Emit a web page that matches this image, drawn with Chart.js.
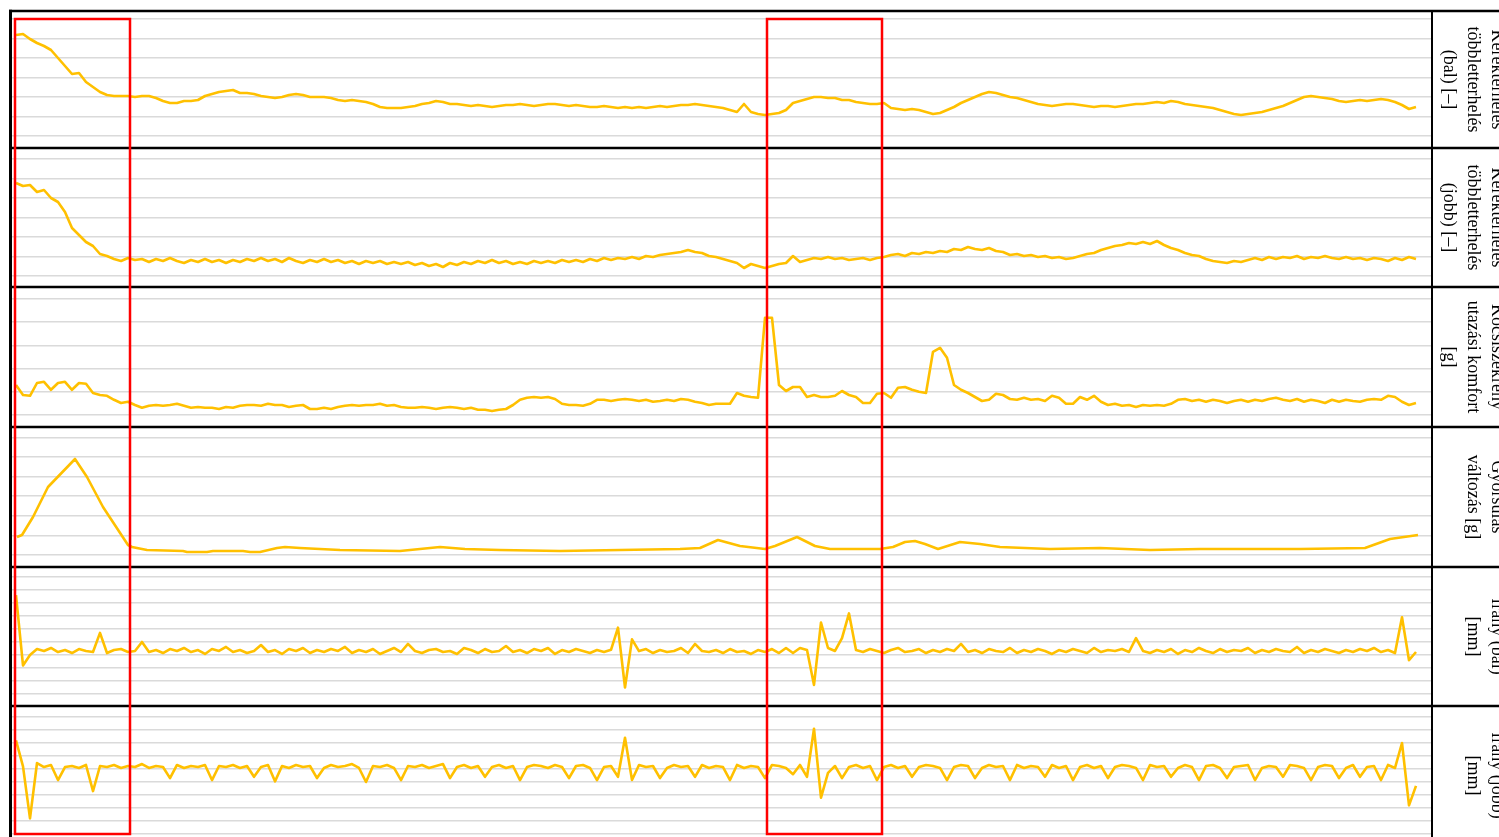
<!DOCTYPE html>
<html lang="hu">
<head>
<meta charset="utf-8">
<title>Mérési eredmények</title>
<script src="https://cdn.jsdelivr.net/npm/chart.js@4.4.1/dist/chart.umd.min.js"></script>
<style>
  html, body { margin: 0; padding: 0; background: #fff; overflow: hidden; }
  #wrap { width: 1499px; height: 848px; }
</style>
</head>
<body>
<div id="wrap"><canvas id="meresChart"></canvas></div>
<script>
// szelvény [m]
const szelveny = [
  0,7,14,21,28,35,42,49,56,63,70,77,84,91,98,105,112,119,126,133,
  140,147,154,161,168,175,182,189,196,203,210,217,224,231,238,245,252,259,266,273,
  280,287,294,301,308,315,322,329,336,343,350,357,364,371,378,385,392,399,406,413,
  420,427,434,441,448,455,462,469,476,483,490,497,504,511,518,525,532,539,546,553,
  560,567,574,581,588,595,602,609,616,623,630,637,644,651,658,665,672,679,686,693,
  700,707,714,721,728,735,742,749,756,763,770,777,784,791,798,805,812,819,826,833,
  840,847,854,861,868,875,882,889,896,903,910,917,924,931,938,945,952,959,966,973,
  980,987,994,1001,1008,1015,1022,1029,1036,1043,1050,1057,1064,1071,1078,1085,1092,1099,1106,1113,
  1120,1127,1134,1141,1148,1155,1162,1169,1176,1183,1190,1197,1204,1211,1218,1225,1232,1239,1246,1253,
  1260,1267,1274,1281,1288,1295,1302,1309,1316,1323,1330,1337,1344,1351,1358,1365,1372,1379,1386,1393,
  1400
];

// kerékterhelés többletterhelés, bal [-]
const tobbletBal = [
  .505,.51,.485,.465,.45,.43,.39,.35,.31,.315,
  .27,.245,.22,.205,.2,.2,.2,.195,.2,.2,
  .19,.175,.165,.165,.175,.175,.18,.2,.21,.22,
  .225,.23,.215,.215,.21,.2,.195,.19,.195,.205,
  .21,.205,.195,.195,.195,.19,.18,.175,.18,.175,
  .17,.16,.145,.14,.14,.14,.145,.15,.16,.165,
  .175,.17,.16,.16,.155,.15,.155,.15,.145,.15,
  .155,.155,.16,.155,.15,.155,.16,.16,.155,.15,
  .155,.15,.145,.145,.15,.145,.14,.145,.14,.145,
  .14,.145,.15,.145,.15,.155,.155,.16,.155,.15,
  .145,.14,.13,.12,.16,.12,.11,.105,.11,.115,
  .13,.165,.175,.185,.195,.195,.19,.19,.18,.18,
  .17,.165,.16,.16,.165,.14,.135,.13,.135,.13,
  .12,.11,.115,.13,.145,.165,.18,.195,.21,.22,
  .215,.205,.195,.19,.18,.17,.16,.155,.15,.155,
  .16,.16,.155,.15,.145,.15,.15,.145,.15,.155,
  .16,.16,.165,.17,.165,.175,.17,.16,.155,.15,
  .145,.14,.13,.12,.11,.105,.11,.115,.12,.13,
  .14,.15,.165,.18,.195,.2,.195,.19,.185,.175,
  .17,.175,.18,.175,.18,.185,.18,.17,.155,.135,
  .145
];

// kerékterhelés többletterhelés, jobb [-]
const tobbletJobb = [
  .465,.45,.455,.42,.43,.39,.37,.32,.24,.205,
  .17,.15,.11,.1,.085,.075,.09,.08,.085,.07,
  .085,.075,.09,.075,.065,.08,.07,.085,.07,.08,
  .065,.08,.07,.085,.075,.09,.075,.085,.07,.09,
  .075,.065,.08,.07,.085,.07,.08,.065,.075,.06,
  .075,.065,.075,.06,.07,.06,.07,.055,.065,.05,
  .06,.045,.065,.055,.07,.06,.075,.065,.08,.065,
  .075,.06,.07,.06,.075,.065,.075,.065,.08,.07,
  .08,.07,.085,.075,.09,.08,.09,.085,.095,.085,
  .1,.095,.105,.11,.115,.12,.13,.12,.115,.1,
  .095,.085,.075,.065,.04,.06,.05,.04,.05,.06,
  .065,.1,.07,.08,.09,.085,.095,.085,.09,.08,
  .085,.09,.08,.09,.095,.105,.11,.1,.115,.11,
  .12,.115,.125,.12,.135,.13,.145,.135,.13,.14,
  .125,.12,.105,.11,.1,.105,.095,.1,.09,.095,
  .085,.09,.1,.11,.115,.13,.14,.15,.155,.165,
  .16,.17,.16,.175,.155,.14,.13,.115,.105,.1,
  .085,.075,.07,.065,.075,.07,.08,.09,.08,.095,
  .085,.095,.09,.1,.085,.095,.09,.1,.09,.085,
  .095,.085,.09,.08,.09,.085,.075,.09,.08,.095,
  .085
];

// utazási komfort [g]
const komfort = [
  .075,.05,.048,.08,.083,.063,.08,.083,.063,.08,
  .078,.055,.05,.048,.038,.03,.033,.025,.018,.023,
  .025,.023,.025,.028,.023,.018,.02,.018,.018,.015,
  .02,.018,.023,.025,.025,.023,.028,.025,.025,.02,
  .023,.025,.015,.015,.018,.015,.02,.023,.025,.023,
  .025,.025,.028,.023,.025,.02,.018,.018,.02,.018,
  .015,.018,.02,.018,.015,.018,.013,.013,.01,.013,
  .015,.025,.038,.043,.045,.043,.045,.04,.028,.025,
  .025,.023,.028,.038,.038,.035,.038,.04,.038,.035,
  .038,.033,.035,.038,.035,.04,.038,.033,.03,.025,
  .028,.028,.028,.055,.048,.045,.043,.243,.243,.075,
  .06,.07,.07,.045,.05,.045,.045,.048,.06,.05,
  .045,.03,.03,.053,.055,.043,.068,.07,.063,.058,
  .055,.158,.168,.143,.075,.063,.055,.045,.035,.038,
  .053,.05,.04,.038,.043,.038,.04,.035,.048,.043,
  .028,.028,.045,.038,.048,.033,.025,.028,.023,.025,
  .02,.025,.023,.025,.023,.028,.038,.04,.035,.038,
  .033,.038,.035,.03,.035,.038,.033,.038,.035,.04,
  .043,.038,.035,.04,.033,.038,.035,.03,.038,.033,
  .038,.035,.033,.038,.04,.038,.048,.045,.033,.025,
  .03
];

// gyorsulás változás [g] (töréspontok)
const valtozasX = [1,6,17,32,59,71,87,112,116,131,167,171,191,197,227,234,244,261,269,284,
  324,384,404,424,449,484,544,604,664,684,702,724,749,759,781,799,814,864,877,889,
  899,909,922,944,964,984,1034,1084,1134,1184,1284,1349,1374,1402];
const valtozasY = [.09,.1,.19,.34,.48,.39,.24,.05,.04,.025,.02,.015,.015,.02,.02,.015,.015,.035,.04,.035,
  .025,.02,.03,.04,.03,.025,.02,.025,.03,.035,.075,.045,.03,.045,.09,.045,.03,.03,.04,.065,
  .07,.055,.03,.065,.055,.04,.03,.035,.025,.03,.03,.035,.08,.1];

// irány, bal [mm]
const iranyBal = [
  4.6,-0.8,0,0.46,0.31,0.54,0.23,0.38,0.15,0.46,
  0.31,0.23,1.7,0.15,0.38,0.46,0.23,0.31,1.0,0.23,
  0.38,0.15,0.46,0.31,0.54,0.23,0.38,0.08,0.46,0.31,
  0.62,0.23,0.38,0.15,0.31,0.77,0.23,0.38,0.08,0.46,
  0.31,0.54,0.15,0.38,0.23,0.46,0.31,0.62,0.15,0.38,
  0.23,0.46,0.08,0.31,0.54,0.23,0.85,0.31,0.15,0.38,
  0.46,0.23,0.31,0.08,0.54,0.38,0.15,0.46,0.23,0.31,
  0.69,0.23,0.38,0.15,0.46,0.31,0.54,0.08,0.38,0.23,
  0.46,0.31,0.15,0.38,0.23,0.4,2.1,-2.5,1.2,0.3,
  0.46,0.15,0.38,0.23,0.31,0.54,0.15,0.85,0.31,0.23,
  0.38,0.15,0.46,0.23,0.31,0.08,0.38,0.23,0.46,0.15,
  0.54,0.15,0.54,0.38,-2.3,2.5,0.54,0.31,1.3,3.2,
  0.38,0.23,0.46,0.31,0.15,0.38,0.54,0.23,0.31,0.46,
  0.15,0.38,0.23,0.46,0.31,0.85,0.23,0.38,0.15,0.46,
  0.31,0.23,0.54,0.15,0.38,0.23,0.46,0.31,0.08,0.38,
  0.23,0.46,0.31,0.15,0.54,0.23,0.38,0.31,0.46,0.23,
  1.3,0.31,0.15,0.38,0.23,0.46,0.08,0.38,0.23,0.54,
  0.31,0.15,0.46,0.23,0.38,0.31,0.54,0.15,0.38,0.23,
  0.46,0.31,0.23,0.62,0.15,0.38,0.23,0.46,0.31,0.15,
  0.38,0.23,0.46,0.31,0.54,0.23,0.38,0.15,2.9,-0.4,
  0.23
];

// irány, jobb [mm]
const iranyJobb = [
  2.2,0.2,-3.8,0.46,0.15,0.31,-0.85,0.15,0.23,0.08,
  0.31,-1.7,0.23,0.15,0.31,0.08,0.23,0.15,0.38,0.08,
  0.23,0.15,-0.7,0.31,0.08,0.23,0.15,0.31,-0.85,0.23,
  0.15,0.31,0.08,0.23,-0.6,0.15,0.31,-0.95,0.23,0.08,
  0.31,0.15,0.23,-0.7,0.08,0.31,0.15,0.23,0.38,0.08,
  -1.0,0.23,0.15,0.31,0.08,-0.85,0.23,0.15,0.31,0.08,
  0.23,0.38,-0.7,0.15,0.31,0.08,0.23,-0.6,0.15,0.31,
  0.08,0.23,-0.85,0.15,0.31,0.23,0.08,0.31,0.15,-0.7,
  0.23,0.31,0.08,-0.85,0.15,0.23,-0.6,2.4,-0.85,0.31,
  0.15,0.23,-0.7,0.08,0.31,0.15,0.23,-0.6,0.31,0.08,
  0.23,0.15,-0.85,0.31,0.08,0.23,0.15,-0.7,0.31,0.23,
  0.08,-0.4,0.31,-0.6,3.1,-2.2,-0.3,0.23,-0.7,0.15,
  0.31,0.08,0.23,-0.85,0.15,0.31,0.08,0.23,-0.6,0.15,
  0.31,0.23,0.08,-0.85,0.15,0.31,0.23,-0.7,0.08,0.31,
  0.15,0.23,-0.85,0.31,0.08,0.23,0.15,-0.6,0.31,0.08,
  0.23,-0.85,0.15,0.31,0.08,0.23,-0.7,0.15,0.31,0.23,
  0.08,-0.85,0.31,0.15,0.23,-0.6,0.08,0.31,0.15,-0.85,
  0.23,0.31,0.08,-0.7,0.15,0.23,0.31,-0.85,0.08,0.23,
  0.15,-0.6,0.31,0.23,0.08,-0.85,0.15,0.31,0.23,-0.7,
  0.08,0.31,-0.6,0.15,0.23,-0.85,0.31,0.08,2.0,-2.8,
  -1.3
];

// kiemelt szakaszok (szelvénytől - szelvényig)
const kiemeltSzakaszok = [[-1, 114], [751, 866]];

const VONAL_SZIN = '#ffc000';

// panel setup, top to bottom
const panelek = [
  { id: 'y1', adat: tobbletBal, cim: ['Kerékterhelés', 'többletterhelés', '(bal) [–]'], min: -0.06, max: 0.625, lepes: 0.0975, suly: 137 },
  { id: 'y2', adat: tobbletJobb, cim: ['Kerékterhelés', 'többletterhelés', '(jobb) [–]'], min: -0.055, max: 0.64, lepes: 0.0975, suly: 139 },
  { id: 'y3', adat: komfort, cim: ['Kocsiszekrény', 'utazási komfort', '[g]'], min: -0.03, max: 0.32, lepes: 0.058, suly: 140 },
  { id: 'y4', adat: null, cim: ['Gyorsulás', 'változás [g]'], min: -0.06, max: 0.64, lepes: 0.098, suly: 140 },
  { id: 'y5', adat: iranyBal, cim: ['Irány (bal)', '[mm]'], min: -3.923, max: 6.769, lepes: 1, suly: 139 },
  { id: 'y6', adat: iranyJobb, cim: ['Irány (jobb)', '[mm]'], min: -5.846, max: 4.846, lepes: 1, suly: 139 }
];

const datasets = panelek.map((p) => {
  const pontok = p.adat
    ? szelveny.map((x, i) => ({ x: x, y: p.adat[i] }))
    : valtozasX.map((x, i) => ({ x: x, y: valtozasY[i] }));
  return {
    data: pontok,
    yAxisID: p.id,
    borderColor: VONAL_SZIN,
    borderWidth: 2.6,
    pointRadius: 0,
    tension: 0,
    borderJoinStyle: 'round',
    fill: false,
  };
});

const scales = {
  x: { type: 'linear', min: -4, max: 1416, display: false },
};
panelek.forEach((p, i) => {
  scales[p.id] = {
    type: 'linear',
    position: 'right',
    stack: 'panelek',
    stackWeight: p.suly,
    weight: i + 1,
    min: p.min,
    max: p.max,
    ticks: { display: false, stepSize: p.lepes, includeBounds: false },
    grid: { color: '#dadada', lineWidth: 1.6, drawTicks: false },
    border: { display: true, color: '#000', width: 2 },
    title: {
      display: true,
      text: p.cim,
      color: '#000',
      font: { family: '"Liberation Serif", "Times New Roman", serif', size: 18, lineHeight: 1.35 },
      padding: { top: -10, bottom: 0 },
    },
    afterFit(scale) {
      scale.width = 67;
    },
  };
});

// black frame, panel separators and the red highlight boxes
const keretPlugin = {
  id: 'keret',
  afterDraw(chart) {
    const { ctx, chartArea, scales } = chart;
    ctx.save();
    ctx.strokeStyle = '#000';
    ctx.lineWidth = 2.5;
    const hatarok = panelek.map((p) => scales[p.id].top);
    hatarok.push(chartArea.bottom);
    ctx.beginPath();
    hatarok.forEach((y) => {
      ctx.moveTo(chartArea.left - 3, y);
      ctx.lineTo(chart.width, y);
    });
    ctx.stroke();

    ctx.lineWidth = 3;
    ctx.beginPath();
    ctx.moveTo(chartArea.left - 1.5, chartArea.top - 1.2);
    ctx.lineTo(chartArea.left - 1.5, chartArea.bottom);
    ctx.stroke();

    ctx.strokeStyle = '#ff0000';
    ctx.lineWidth = 2.5;
    kiemeltSzakaszok.forEach(([a, b]) => {
      const x0 = scales.x.getPixelForValue(a);
      const x1 = scales.x.getPixelForValue(b);
      ctx.strokeRect(x0, chartArea.top + 8, x1 - x0, chartArea.bottom - chartArea.top - 19);
    });
    ctx.restore();
  },
};

new Chart(document.getElementById('meresChart'), {
  type: 'line',
  data: { datasets: datasets },
  options: {
    responsive: true,
    maintainAspectRatio: false,
    animation: false,
    layout: { padding: { left: 12, top: 11, right: 0, bottom: 3 } },
    plugins: {
      legend: { display: false },
      tooltip: { enabled: false },
    },
    scales: scales,
  },
  plugins: [keretPlugin],
});
</script>
</body>
</html>
